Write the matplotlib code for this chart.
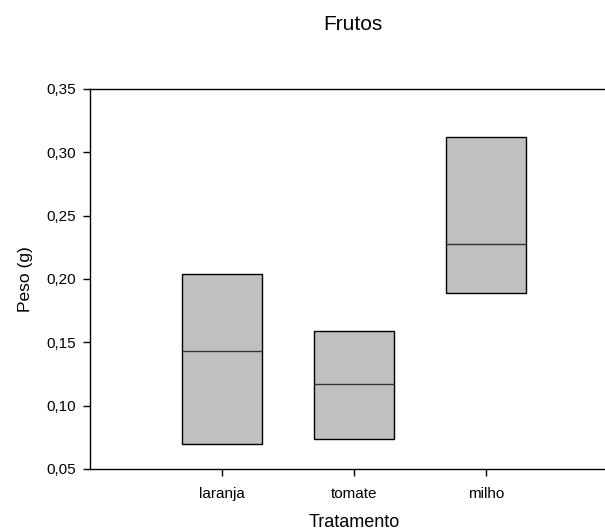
import matplotlib
matplotlib.use("Agg")
import matplotlib.pyplot as plt

plt.rcParams['font.family'] = ['Liberation Sans', 'DejaVu Sans']

# Treatments and box statistics (lower quartile, median, upper quartile)
tratamentos = ["laranja", "tomate", "milho"]
q1 = [0.070, 0.074, 0.189]
medianas = [0.143, 0.117, 0.228]
q3 = [0.204, 0.159, 0.312]

y_ticks = [0.05, 0.10, 0.15, 0.20, 0.25, 0.30, 0.35]
y_tick_labels = ["0,05", "0,10", "0,15", "0,20", "0,25", "0,30", "0,35"]

W, H = 605, 531
fig = plt.figure(figsize=(W / 100, H / 100), dpi=100)
# axes spans x = 0..4; the right part runs past the figure edge
ax = fig.add_axes([90 / W, 1 - 469 / H, 528 / W, 380 / H])

stats = []
for nome, a, m, b in zip(tratamentos, q1, medianas, q3):
    stats.append(dict(label=nome, q1=a, med=m, q3=b, whislo=a, whishi=b, fliers=[]))

positions = list(range(1, len(tratamentos) + 1))
ax.bxp(stats, positions=positions, widths=0.6, patch_artist=True,
       showcaps=False, showfliers=False,
       boxprops=dict(facecolor="#c0c0c0", edgecolor="black", linewidth=1.0),
       medianprops=dict(color="#333333", linewidth=1.0),
       whiskerprops=dict(linewidth=0))

ax.set_xlim(0, 4)
ax.set_ylim(0.05, 0.35)
ax.set_xticks(positions)
ax.set_xticklabels(tratamentos, fontsize=11)
ax.set_yticks(y_ticks)
ax.set_yticklabels(y_tick_labels, fontsize=11)
ax.tick_params(axis="x", direction="out", length=5, width=1, pad=8)
ax.tick_params(axis="y", direction="out", length=5, width=1, pad=5)

for side in ["left", "bottom", "top"]:
    ax.spines[side].set_linewidth(1.0)
ax.spines["right"].set_visible(False)

ax.set_xlabel("Tratamento", fontsize=13, labelpad=9)
ax.set_ylabel("Peso (g)", fontsize=12.5, labelpad=10)
fig.text(353 / W, 1 - 25 / H, "Frutos", ha="center", va="center", fontsize=15)

fig.savefig("out.png", dpi=100)
